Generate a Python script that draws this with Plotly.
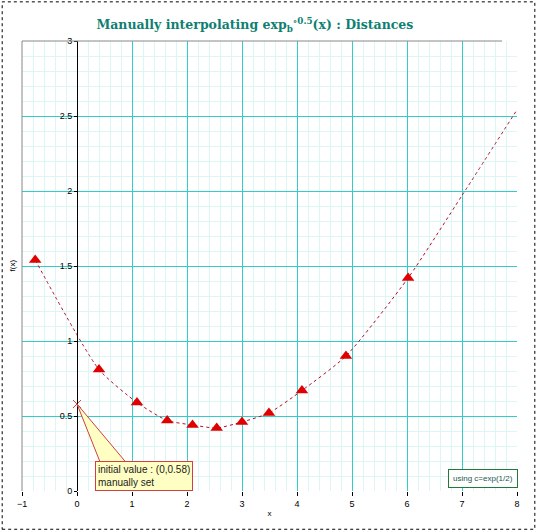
import plotly.graph_objects as go

# data
marker_x = [-0.76, 0.40, 1.09, 1.64, 2.10, 2.54, 3.00, 3.49, 4.09, 4.89, 6.02]
marker_y = [1.54, 0.81, 0.59, 0.47, 0.44, 0.42, 0.46, 0.52, 0.67, 0.90, 1.42]
curve_x = marker_x + [7.0, 8.12]
curve_y = marker_y + [1.97, 2.61]
init_x = [0]
init_y = [0.58]
x_ticks = [-1, 0, 1, 2, 3, 4, 5, 6, 7, 8]
y_ticks = [0, 0.5, 1, 1.5, 2, 2.5, 3]
y_tick_labels = ["0", "0.5", "1", "1.5", "2", "2.5", "3"]
x_minor_ticks = [round(-1 + 0.2 * i, 1) for i in range(46) if (i % 5) != 0]
y_minor_ticks = [round(0.1 * i, 1) for i in range(31) if (i % 5) != 0]

TEAL = "#0e7f72"
GRID = "#33cccc"
MINOR = "#dcf6f6"

fig = go.Figure()
fig.add_trace(go.Scatter(x=curve_x, y=curve_y, mode="lines", line=dict(color="#b0102a", width=1, dash="dot", shape="spline", smoothing=0.6), hoverinfo="skip"))
fig.add_trace(go.Scatter(x=marker_x, y=marker_y, mode="markers", marker=dict(symbol="triangle-up", size=11, color="#e00000", line=dict(width=0))))
fig.add_trace(go.Scatter(x=init_x, y=init_y, mode="markers", marker=dict(symbol="x-thin", size=8, line=dict(color="#e04040", width=1)), cliponaxis=False))

# callout wedge
fig.add_shape(type="path", xref="x", yref="y",
              path="M 0,0.58 L 0.45,0.165 L 0.95,0.165 Z",
              fillcolor="#ffffc4", line=dict(color="#d04040", width=1), layer="above")

fig.add_annotation(x=1.22, y=0.10, xref="x", yref="y", showarrow=False,
                   text="initial value : (0,0.58)<br>manually set", align="left",
                   font=dict(family="Liberation Sans", size=10, color="#222222"),
                   bgcolor="#ffffc4", bordercolor="#d04040", borderwidth=1, borderpad=2)

fig.add_annotation(x=7.38, y=0.086, xref="x", yref="y", showarrow=False,
                   text="using c=exp(1/2)",
                   font=dict(family="Liberation Sans", size=8, color="#1a5a4a"),
                   bgcolor="white", bordercolor="#1f7a3a", borderwidth=1, borderpad=4)

# frame lines (left and top) and outer dotted border
fig.add_shape(type="line", xref="x domain", yref="y domain", x0=0, x1=0, y0=0, y1=1, line=dict(color="#888888", width=1))
fig.add_shape(type="line", xref="x domain", yref="y domain", x0=0, x1=0.97, y0=1, y1=1, line=dict(color="#888888", width=1))
fig.add_shape(type="rect", xref="paper", yref="paper", x0=-0.04, x1=1.036, y0=-0.085, y1=1.087,
              line=dict(color="black", width=1, dash="dot"), layer="above")

fig.update_layout(
    width=540, height=532,
    margin=dict(l=22, r=23, t=41, b=41, autoexpand=False),
    paper_bgcolor="white", plot_bgcolor="white",
    showlegend=False,
    title=dict(text="Manually interpolating exp<sub>b</sub><sup>∘0.5</sup>(x) : Distances",
               x=0.472, xanchor="center", y=0.953, yanchor="middle",
               font=dict(family="DejaVu Serif", size=12.5, color=TEAL, weight="bold")),
    xaxis=dict(range=[-1, 8], tickvals=x_ticks, ticks="outside", ticklen=4, tickcolor="black", automargin=False,
               showgrid=True, gridcolor=GRID, gridwidth=1, zeroline=False, showline=False,
               minor=dict(tickmode="array", tickvals=x_minor_ticks, showgrid=True, gridcolor=MINOR, gridwidth=1),
               tickfont=dict(family="Liberation Sans", size=9, color="black"),
               title=dict(text="x", font=dict(family="Liberation Sans", size=8, color="black"), standoff=2)),
    yaxis=dict(range=[0, 3], tickvals=y_ticks, ticktext=y_tick_labels, ticks="outside", ticklen=3, tickcolor="black",
               anchor="free", position=1/9, showline=True, linecolor="black", linewidth=1, automargin=False,
               showgrid=True, gridcolor=GRID, gridwidth=1, zeroline=False,
               minor=dict(tickmode="array", tickvals=y_minor_ticks, showgrid=True, gridcolor=MINOR, gridwidth=1),
               tickfont=dict(family="Liberation Sans", size=9, color="black"),
               title=dict(text="")),
)
fig.add_annotation(x=0.0, y=0.5, xref="paper", yref="paper", xshift=-17, text="f(x)", textangle=-90,
                   showarrow=False, font=dict(family="Liberation Sans", size=8, color="black"))

fig.write_html("out.html", config={"displayModeBar": False},
               post_script="document.body.style.margin='0';")
